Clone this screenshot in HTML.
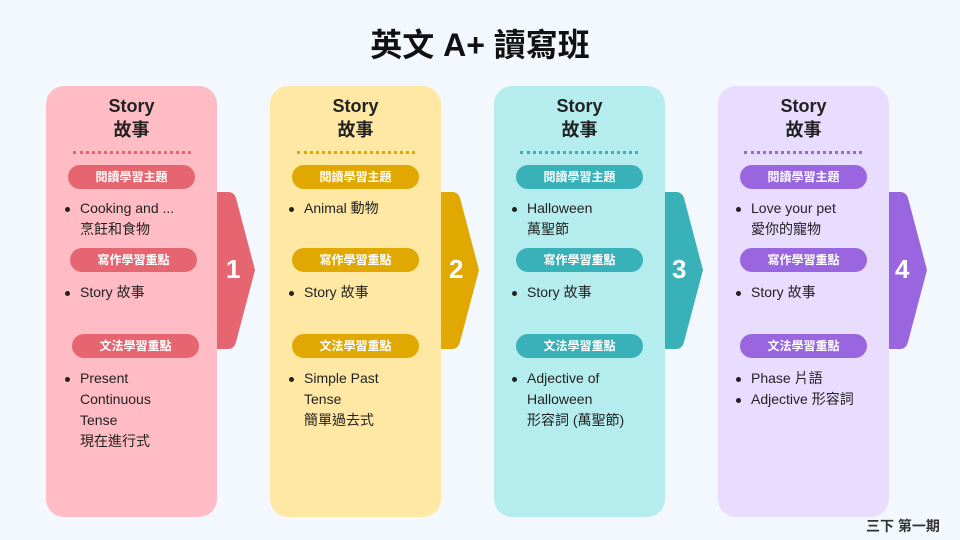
<!DOCTYPE html>
<html><head><meta charset="utf-8"><style>
*{margin:0;padding:0;box-sizing:border-box}
body{width:960px;height:540px;background:#f3f8ff;position:relative;overflow:hidden;font-family:"Liberation Sans","Noto Sans CJK TC",sans-serif;color:#222}
.t{position:absolute;white-space:nowrap}
.card{position:absolute;top:86px;width:171px;height:431px;border-radius:18px}
.pill{position:absolute;width:127px;height:24px;border-radius:12px;color:#fff;font-weight:bold;font-size:12px;text-align:center;line-height:24px}
.hd{position:absolute;width:171px;text-align:center;font-weight:bold;font-size:18px;line-height:24px}
.dot{position:absolute;top:151px;width:118px;border-top:3px dotted}
.li{position:absolute;font-size:14px;line-height:21px;white-space:nowrap}
.li.b::before{content:"";position:absolute;left:-15px;top:9px;width:5px;height:5px;border-radius:50%;background:#222}
.num{position:absolute;color:#fff;font-weight:bold;font-size:26px;top:254px}
</style></head><body>
<div class="t" style="left:0;width:960px;text-align:center;top:20px;font-size:32px;font-weight:bold;color:#111">英文 A+ 讀寫班</div>
<svg width="960" height="540" style="position:absolute;left:0;top:0">
<g id="tabs">
<path d="M217 192 H228 Q234 192 236 198 L255 270 L236 342 Q234 349 228 349 H217 Z" fill="#e56570"/>
<path d="M441 192 H452 Q458 192 460 198 L479 270 L460 342 Q458 349 452 349 H441 Z" fill="#e0a800"/>
<path d="M665 192 H676 Q682 192 684 198 L703 270 L684 342 Q682 349 676 349 H665 Z" fill="#38b2b8"/>
<path d="M889 192 H900 Q906 192 908 198 L927 270 L908 342 Q906 349 900 349 H889 Z" fill="#9966e0"/>
</g></svg>
<div class="num" style="left:226px">1</div>
<div class="num" style="left:449px">2</div>
<div class="num" style="left:672px">3</div>
<div class="num" style="left:895px">4</div>

<!-- col1 -->
<div class="card" style="left:46px;background:#ffbcc4"></div>
<div class="hd" style="left:46px;top:94px">Story<br>故事</div>
<div class="dot" style="left:73px;border-color:#e56570"></div>
<div class="pill" style="left:68px;top:165px;background:#e56570">閱讀學習主題</div>
<div class="li b" style="left:80px;top:198px">Cooking and ...</div>
<div class="li" style="left:80px;top:219px">烹飪和食物</div>
<div class="pill" style="left:70px;top:248px;background:#e56570">寫作學習重點</div>
<div class="li b" style="left:80px;top:282px">Story 故事</div>
<div class="pill" style="left:72px;top:334px;background:#e56570">文法學習重點</div>
<div class="li b" style="left:80px;top:368px">Present</div>
<div class="li" style="left:80px;top:389px">Continuous</div>
<div class="li" style="left:80px;top:410px">Tense</div>
<div class="li" style="left:80px;top:431px">現在進行式</div>

<!-- col2 -->
<div class="card" style="left:270px;background:#ffe8a3"></div>
<div class="hd" style="left:270px;top:94px">Story<br>故事</div>
<div class="dot" style="left:297px;border-color:#e0a800"></div>
<div class="pill" style="left:292px;top:165px;background:#e0a800">閱讀學習主題</div>
<div class="li b" style="left:304px;top:198px">Animal 動物</div>
<div class="pill" style="left:292px;top:248px;background:#e0a800">寫作學習重點</div>
<div class="li b" style="left:304px;top:282px">Story 故事</div>
<div class="pill" style="left:292px;top:334px;background:#e0a800">文法學習重點</div>
<div class="li b" style="left:304px;top:368px">Simple Past</div>
<div class="li" style="left:304px;top:389px">Tense</div>
<div class="li" style="left:304px;top:410px">簡單過去式</div>

<!-- col3 -->
<div class="card" style="left:494px;background:#b5ecee"></div>
<div class="hd" style="left:494px;top:94px">Story<br>故事</div>
<div class="dot" style="left:520px;border-color:#38b2b8"></div>
<div class="pill" style="left:516px;top:165px;background:#38b2b8">閱讀學習主題</div>
<div class="li b" style="left:527px;top:198px">Halloween</div>
<div class="li" style="left:527px;top:219px">萬聖節</div>
<div class="pill" style="left:516px;top:248px;background:#38b2b8">寫作學習重點</div>
<div class="li b" style="left:527px;top:282px">Story 故事</div>
<div class="pill" style="left:516px;top:334px;background:#38b2b8">文法學習重點</div>
<div class="li b" style="left:527px;top:368px">Adjective of</div>
<div class="li" style="left:527px;top:389px">Halloween</div>
<div class="li" style="left:527px;top:410px">形容詞 (萬聖節)</div>

<!-- col4 -->
<div class="card" style="left:718px;background:#e8dcff"></div>
<div class="hd" style="left:718px;top:94px">Story<br>故事</div>
<div class="dot" style="left:744px;border-color:#9966e0"></div>
<div class="pill" style="left:740px;top:165px;background:#9966e0">閱讀學習主題</div>
<div class="li b" style="left:751px;top:198px">Love your pet</div>
<div class="li" style="left:751px;top:219px">愛你的寵物</div>
<div class="pill" style="left:740px;top:248px;background:#9966e0">寫作學習重點</div>
<div class="li b" style="left:751px;top:282px">Story 故事</div>
<div class="pill" style="left:740px;top:334px;background:#9966e0">文法學習重點</div>
<div class="li b" style="left:751px;top:368px">Phase 片語</div>
<div class="li b" style="left:751px;top:389px">Adjective 形容詞</div>

<div class="t" style="left:866px;top:516px;font-size:14px;font-weight:bold;color:#333">三下 第一期</div>
</body></html>
